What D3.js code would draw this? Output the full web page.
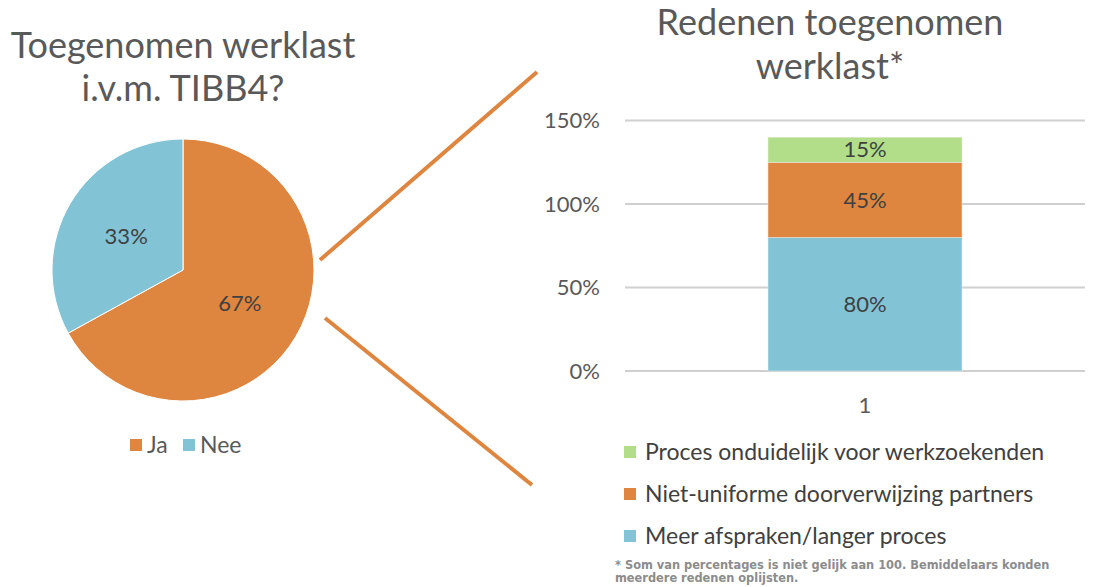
<!DOCTYPE html>
<html lang="nl">
<head>
  <meta charset="UTF-8"/>
  <title>Toegenomen werklast</title>
  <script src="https://d3js.org/d3.v7.min.js"></script>
  <style>
    body { margin: 0; background: #fff; }
    text { font-family: Lato, "Open Sans", sans-serif; }
  </style>
</head>
<body>
<script>

  // pie data
  var pieLabels = ["Ja", "Nee"];
  var pieValues = [67, 33];

  // stacked bar data (bottom to top)
  var barCategories = ["1"];
  var barSeries = ["Meer afspraken/langer proces", "Niet-uniforme doorverwijzing partners", "Proces onduidelijk voor werkzoekenden"];
  var barValues = [80, 45, 15];
  var yTicks = [0, 50, 100, 150];

  var orange = "#DE8640", blue = "#82C4D6", green = "#B2DE8A";

  var w = 1105, h = 587;

  var svg = d3.select("body")
              .append("svg")
              .attr("width", w)
              .attr("height", h);

  // ---- left: pie ----
  svg.append("text")
     .attr("x", 183).attr("y", 58)
     .attr("text-anchor", "middle")
     .style("font-size", "36px").style("fill", "#595959")
     .text("Toegenomen werklast");
  svg.append("text")
     .attr("x", 183).attr("y", 101)
     .attr("text-anchor", "middle")
     .style("font-size", "36px").style("fill", "#595959")
     .text("i.v.m. TIBB4?");

  var pieColor = d3.scaleOrdinal().domain(pieLabels).range([orange, blue]);

  var pie = d3.pie().sort(null).value(function(d) { return d.value; });
  var pieData = pie(pieLabels.map(function(l, i) { return { label: l, value: pieValues[i] }; }));

  var arc = d3.arc().innerRadius(0).outerRadius(131);
  var labelArc = d3.arc().innerRadius(66).outerRadius(66);

  var pg = svg.append("g").attr("transform", "translate(183,270)");

  pg.selectAll("path")
    .data(pieData)
    .enter()
    .append("path")
    .attr("d", arc)
    .style("fill", function(d) { return pieColor(d.data.label); })
    .style("stroke", "#fff")
    .style("stroke-width", 1);

  pg.selectAll("text")
    .data(pieData)
    .enter()
    .append("text")
    .attr("transform", function(d) { return "translate(" + labelArc.centroid(d) + ")"; })
    .attr("text-anchor", "middle")
    .attr("dy", "0.35em")
    .style("font-size", "22px").style("fill", "#404040")
    .text(function(d) { return d.data.value + "%"; });

  // pie legend
  var pl = svg.append("g").attr("transform", "translate(130,445)");
  var plx = [0, 53];
  pieLabels.forEach(function(l, i) {
    pl.append("rect").attr("x", plx[i]).attr("y", -6).attr("width", 12).attr("height", 12)
      .style("fill", pieColor(l));
    pl.append("text").attr("x", plx[i] + 17).attr("y", 0).attr("dy", "0.35em")
      .style("font-size", "23px").style("fill", "#595959").text(l);
  });

  // connector lines
  svg.append("line").attr("x1", 320).attr("y1", 260).attr("x2", 537).attr("y2", 72)
     .style("stroke", orange).style("stroke-width", 4);
  svg.append("line").attr("x1", 325).attr("y1", 318).attr("x2", 532).attr("y2", 485)
     .style("stroke", orange).style("stroke-width", 4);

  // ---- right: stacked bar ----
  svg.append("text")
     .attr("x", 830).attr("y", 35)
     .attr("text-anchor", "middle")
     .style("font-size", "36px").style("fill", "#595959")
     .text("Redenen toegenomen");
  svg.append("text")
     .attr("x", 830).attr("y", 79)
     .attr("text-anchor", "middle")
     .style("font-size", "36px").style("fill", "#595959")
     .text("werklast*");

  var y = d3.scaleLinear().domain([0, 150]).range([371, 120.5]);

  var yAxis = d3.axisLeft(y).tickValues(yTicks).tickSize(0).tickPadding(25)
                .tickFormat(function(d) { return d + "%"; });

  var ag = svg.append("g").attr("transform", "translate(625,0)").call(yAxis);
  ag.select(".domain").remove();
  ag.selectAll("text").style("font-size", "22px").style("fill", "#595959")
    .style("font-family", "Lato, sans-serif");

  svg.append("g").selectAll("line")
     .data(yTicks)
     .enter()
     .append("line")
     .attr("x1", 625).attr("x2", 1085)
     .attr("y1", function(d) { return y(d); })
     .attr("y2", function(d) { return y(d); })
     .style("stroke", "#D0D0D0").style("stroke-width", 2);

  var row = {};
  barSeries.forEach(function(s, i) { row[s] = barValues[i]; });
  var stacked = d3.stack().keys(barSeries)([row]);
  var barColor = d3.scaleOrdinal().domain(barSeries).range([blue, orange, green]);

  var bx = 768, bw = 194;

  var bg = svg.append("g");
  bg.selectAll("rect")
    .data(stacked)
    .enter()
    .append("rect")
    .attr("x", bx)
    .attr("width", bw)
    .attr("y", function(d) { return y(d[0][1]); })
    .attr("height", function(d) { return y(d[0][0]) - y(d[0][1]); })
    .style("fill", function(d) { return barColor(d.key); })
    .style("stroke", "#E8E8E8").style("stroke-width", 0.5);

  bg.selectAll("text")
    .data(stacked)
    .enter()
    .append("text")
    .attr("x", bx + bw / 2)
    .attr("y", function(d) { return (y(d[0][0]) + y(d[0][1])) / 2; })
    .attr("dy", "0.35em")
    .attr("text-anchor", "middle")
    .style("font-size", "22px").style("fill", "#404040")
    .text(function(d) { return d[0].data[d.key] + "%"; });

  svg.append("text")
     .attr("x", bx + bw / 2).attr("y", 405).attr("dy", "0.35em")
     .attr("text-anchor", "middle")
     .style("font-size", "22px").style("fill", "#595959")
     .text(barCategories[0]);

  // bar legend (top item = top segment)
  var legendOrder = barSeries.slice().reverse();
  var lg = svg.append("g").selectAll("g")
     .data(legendOrder)
     .enter()
     .append("g")
     .attr("transform", function(d, i) { return "translate(624," + (452 + i * 42) + ")"; });
  lg.append("rect").attr("x", 0).attr("y", -6).attr("width", 12).attr("height", 12)
    .style("fill", function(d) { return barColor(d); });
  lg.append("text").attr("x", 21).attr("y", 0).attr("dy", "0.35em")
    .style("font-size", "23px").style("fill", "#404040")
    .text(function(d) { return d; });

  // footnote
  var fn = svg.append("text").attr("x", 615).attr("y", 569)
     .style("font-family", "DejaVu Sans, Verdana, sans-serif")
     .style("font-size", "11.4px").style("font-weight", "bold").style("fill", "#8C8C8C");
  fn.append("tspan").attr("x", 615).text("* Som van percentages is niet gelijk aan 100. Bemiddelaars konden");
  fn.append("tspan").attr("x", 615).attr("dy", 12.5).text("meerdere redenen oplijsten.");

</script>
</body>
</html>
